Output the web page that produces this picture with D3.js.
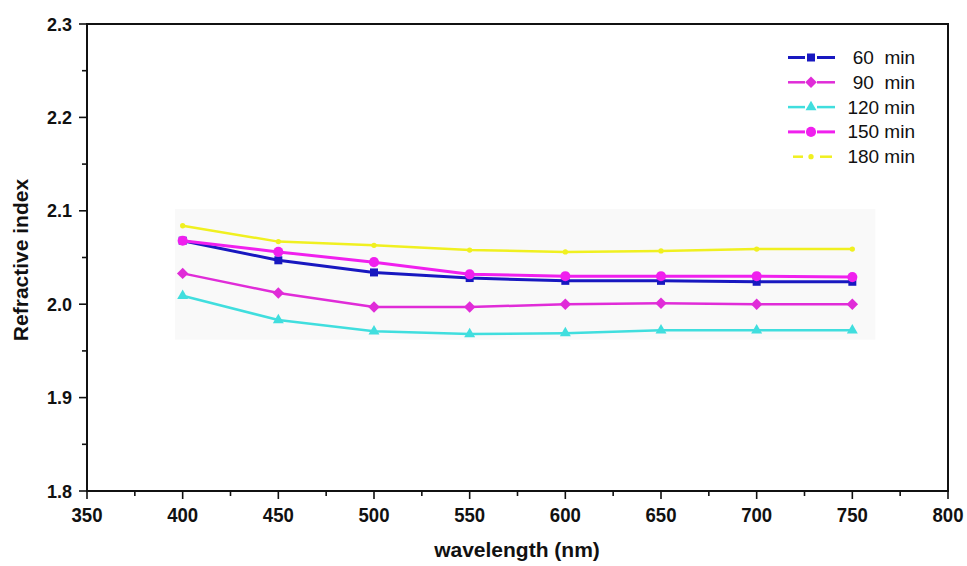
<!DOCTYPE html>
<html>
<head>
<meta charset="utf-8">
<script src="https://cdn.jsdelivr.net/npm/d3@7"></script>
<style>
  html, body { margin: 0; padding: 0; background: #fff; }
  svg { display: block; }
  text { font-family: "Liberation Sans", Arial, sans-serif; }
</style>
</head>
<body>
<svg id="chart" width="967" height="566"></svg>
<script>
// Wavelength samples (nm)
const wavelengths = [400, 450, 500, 550, 600, 650, 700, 750];

// Refractive index per deposition time
const n60  = [2.068, 2.047, 2.034, 2.028, 2.025, 2.025, 2.024, 2.024];
const n90  = [2.033, 2.012, 1.997, 1.997, 2.000, 2.001, 2.000, 2.000];
const n120 = [2.009, 1.983, 1.971, 1.968, 1.969, 1.972, 1.972, 1.972];
const n150 = [2.068, 2.056, 2.045, 2.032, 2.030, 2.030, 2.030, 2.029];
const n180 = [2.084, 2.067, 2.063, 2.058, 2.056, 2.057, 2.059, 2.059];

const seriesNames = ["60  min", "90  min", "120 min", "150 min", "180 min"];

const xTicks = [350, 400, 450, 500, 550, 600, 650, 700, 750, 800];
const yTicks = [1.8, 1.9, 2.0, 2.1, 2.2, 2.3];

// rotated square used as the diamond marker
const symbolRhomb = {
  draw(context, size) {
    const r = Math.sqrt(size / 2);
    context.moveTo(0, -r);
    context.lineTo(r, 0);
    context.lineTo(0, r);
    context.lineTo(-r, 0);
    context.closePath();
  }
};

const series = [
  { name: seriesNames[0], values: n60,  color: "#1818c0", symbol: d3.symbolSquare,   size: 64, width: 3 },
  { name: seriesNames[1], values: n90,  color: "#e02cd8", symbol: symbolRhomb,       size: 66, width: 2.5 },
  { name: seriesNames[2], values: n120, color: "#40dede", symbol: d3.symbolTriangle, size: 52, width: 2.5 },
  { name: seriesNames[3], values: n150, color: "#f020ee", symbol: d3.symbolCircle,   size: 80, width: 3 },
  { name: seriesNames[4], values: n180, color: "#f0f020", symbol: d3.symbolCircle,   size: 22, width: 2.5 }
];

const svg = d3.select("#chart");
const margin = { left: 87, right: 19, top: 24, bottom: 75 };
const W = 967, H = 566;

const x = d3.scaleLinear().domain([350, 800]).range([margin.left, W - margin.right]);
const y = d3.scaleLinear().domain([1.8, 2.3]).range([H - margin.bottom, margin.top]);

// faint paper tint behind the curves
svg.append("rect")
  .attr("x", x(396)).attr("y", y(2.102))
  .attr("width", x(762) - x(396)).attr("height", y(1.962) - y(2.102))
  .attr("fill", "#f9f9f9");

// frame
svg.append("rect")
  .attr("x", x(350)).attr("y", y(2.3))
  .attr("width", x(800) - x(350)).attr("height", y(1.8) - y(2.3))
  .attr("fill", "none").attr("stroke", "#111").attr("stroke-width", 2);

// x axis: major ticks every 50, minor every 25
const xAxis = svg.append("g").attr("transform", `translate(0,${y(1.8)})`);
xAxis.selectAll(null).data(d3.range(350, 801, 25)).enter().append("line")
  .attr("x1", d => x(d)).attr("x2", d => x(d))
  .attr("y1", 0).attr("y2", d => (d % 50 === 0 ? 8 : 5))
  .attr("stroke", "#111").attr("stroke-width", 1.6);
xAxis.selectAll(null).data(xTicks).enter().append("text")
  .attr("x", d => x(d)).attr("y", 31)
  .attr("text-anchor", "middle")
  .attr("font-size", 20).attr("font-weight", "bold").attr("fill", "#111")
  .attr("textLength", 31).attr("lengthAdjust", "spacingAndGlyphs")
  .text(d => d);

// y axis: major ticks every 0.1, minor every 0.05
const yAxis = svg.append("g").attr("transform", `translate(${x(350)},0)`);
yAxis.selectAll(null).data(d3.range(0, 11).map(i => 1.8 + i * 0.05)).enter().append("line")
  .attr("y1", d => y(d)).attr("y2", d => y(d))
  .attr("x1", (d, i) => (i % 2 === 0 ? -8 : -5)).attr("x2", 0)
  .attr("stroke", "#111").attr("stroke-width", 1.6);
yAxis.selectAll(null).data(yTicks).enter().append("text")
  .attr("x", -15).attr("y", d => y(d) + 6.5)
  .attr("text-anchor", "end")
  .attr("font-size", 18).attr("font-weight", "bold").attr("fill", "#111")
  .text(d => d3.format(".1f")(d));

// axis titles
svg.append("text")
  .attr("x", 517).attr("y", 557)
  .attr("text-anchor", "middle")
  .attr("font-size", 21).attr("font-weight", "bold").attr("fill", "#111")
  .text("wavelength (nm)");
svg.append("text")
  .attr("transform", `translate(28,${260}) rotate(-90)`)
  .attr("text-anchor", "middle")
  .attr("font-size", 21).attr("font-weight", "bold").attr("fill", "#111")
  .text("Refractive index");

// curves and markers
const line = d3.line().x((d, i) => x(wavelengths[i])).y(d => y(d));
const plot = svg.append("g");
series.forEach(s => {
  plot.append("path")
    .datum(s.values)
    .attr("d", line)
    .attr("fill", "none")
    .attr("stroke", s.color)
    .attr("stroke-width", s.width)
    .attr("stroke-linejoin", "round");
  plot.selectAll(null).data(s.values).enter().append("path")
    .attr("transform", (d, i) => `translate(${x(wavelengths[i])},${y(d)})`)
    .attr("d", d3.symbol().type(s.symbol).size(s.size))
    .attr("fill", s.color);
});

// legend: line sample with a gap round the marker, then the label
const legend = svg.append("g");
series.forEach((s, i) => {
  const ly = 57.5 + i * 24.8;
  const g = legend.append("g");
  const segs = i === 4 ? [[793, 803], [820, 832]] : [[788, 805], [817, 835]];
  segs.forEach(([a, b]) => {
    g.append("line").attr("x1", a).attr("x2", b).attr("y1", ly).attr("y2", ly)
      .attr("stroke", s.color).attr("stroke-width", s.width);
  });
  g.append("path")
    .attr("transform", `translate(811,${ly})`)
    .attr("d", d3.symbol().type(s.symbol).size(s.size))
    .attr("fill", s.color);
  g.append("text")
    .attr("x", 915).attr("y", ly + 6.5)
    .attr("text-anchor", "end")
    .attr("font-size", 19).attr("fill", "#111")
    .attr("xml:space", "preserve")
    .style("white-space", "pre")
    .text(s.name);
});
</script>
</body>
</html>
